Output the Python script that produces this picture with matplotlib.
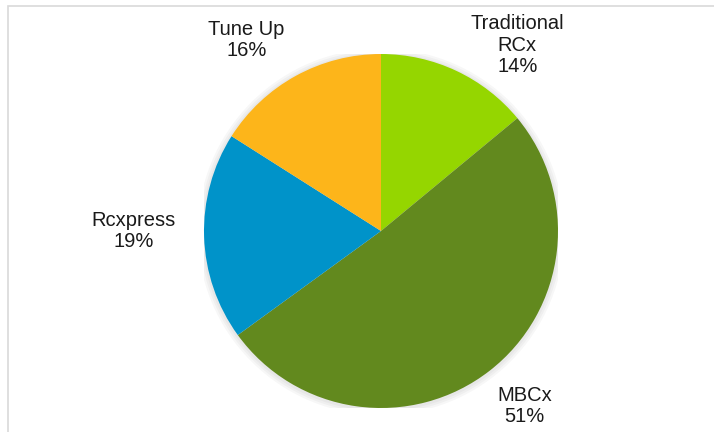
import matplotlib.pyplot as plt
from matplotlib.patches import Rectangle

# Data for the pie chart
labels = ['Traditional\nRCx', 'MBCx', 'Rcxpress', 'Tune Up']
shares = [14, 51, 19, 16]
colors = ['#95D600', '#62891E', '#0093C9', '#FDB51A']

# label anchor points in pie units (radius = 1)
label_pos = [(0.77, 1.05), (0.81, -0.99), (-1.40, 0.0), (-0.76, 1.08)]

fig = plt.figure(figsize=(7.14, 4.32), dpi=100)
plt.rcParams['font.family'] = ['Liberation Sans', 'DejaVu Sans']

# light chart frame
fig.patches.append(Rectangle((8 / 714, -0.1), 1.0, (432 - 6) / 432 + 0.1,
                             transform=fig.transFigure, fill=False,
                             edgecolor='#D9D9D9', linewidth=1.2))

ax = fig.add_axes([204 / 714, 24 / 432, 354 / 714, 354 / 432])

# soft shadow
for i, a in enumerate([0.03, 0.03, 0.03]):
    ax.add_patch(plt.Circle((0, -0.005), 1.0 + 0.012 * (i + 1), color='black',
                            alpha=a, lw=0, zorder=0))

ax.pie(shares, colors=colors, startangle=90, counterclock=False,
       wedgeprops=dict(linewidth=0))

for lab, val, (x, y) in zip(labels, shares, label_pos):
    ax.text(x, y, f'{lab}\n{val}%', ha='center', va='center', fontsize=14.5,
            color='#1a1a1a', linespacing=1.15)

ax.set_xlim(-1, 1)
ax.set_ylim(-1, 1)
ax.set_aspect('equal')
ax.axis('off')

fig.savefig('out.png', dpi=100)
